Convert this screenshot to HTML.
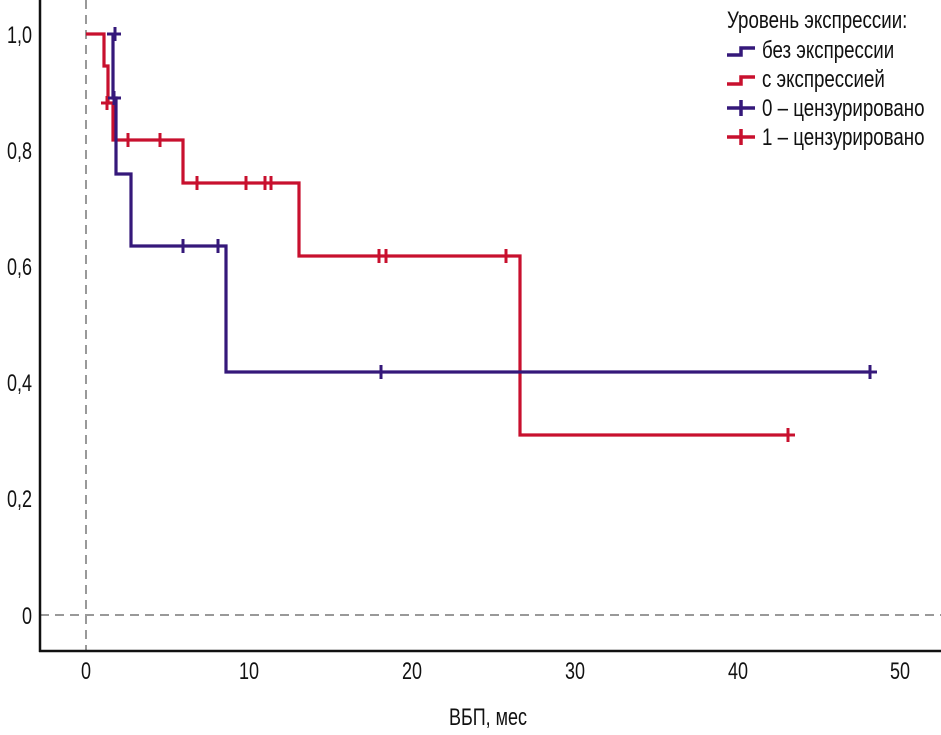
<!DOCTYPE html>
<html><head><meta charset="utf-8"><style>
html,body{margin:0;padding:0;background:#fff;}
svg text{font-family:"Liberation Sans",sans-serif;fill:#111;}
</style></head><body>
<svg width="941" height="730" viewBox="0 0 941 730" xmlns="http://www.w3.org/2000/svg">
<line x1="86" y1="0" x2="86" y2="651" stroke="#999" stroke-width="2" stroke-dasharray="9,6"/>
<line x1="40" y1="615" x2="941" y2="615" stroke="#999" stroke-width="2" stroke-dasharray="9,6"/>
<line x1="40" y1="0" x2="40" y2="652" stroke="#111" stroke-width="2.5"/>
<line x1="39" y1="651" x2="941" y2="651" stroke="#111" stroke-width="2.5"/>
<g font-size="24" text-anchor="end">
<text transform="translate(32,43) scale(0.75,1)">1,0</text>
<text transform="translate(32,159) scale(0.75,1)">0,8</text>
<text transform="translate(32,275) scale(0.75,1)">0,6</text>
<text transform="translate(32,391) scale(0.75,1)">0,4</text>
<text transform="translate(32,507) scale(0.75,1)">0,2</text>
<text transform="translate(32,624) scale(0.75,1)">0</text>
</g>
<g font-size="24" text-anchor="middle">
<text transform="translate(86,679) scale(0.75,1)">0</text>
<text transform="translate(249,679) scale(0.75,1)">10</text>
<text transform="translate(412,679) scale(0.75,1)">20</text>
<text transform="translate(575,679) scale(0.75,1)">30</text>
<text transform="translate(738,679) scale(0.75,1)">40</text>
<text transform="translate(900,679) scale(0.75,1)">50</text>
<text transform="translate(488,725) scale(0.75,1)">ВБП, мес</text>
</g>
<g fill="none" stroke-width="3.2">
<polyline stroke="#c8102e" points="86,34 104,34 104,66 108,66 108,103 113,103 113,140 183,140 183,183 299,183 299,256 520,256 520,435 788,435"/>
<polyline stroke="#35187a" points="113,34 113,98 116,98 116,174 131,174 131,246 226,246 226,372 870,372"/>
</g>
<g stroke="#c8102e" stroke-width="3">
<path d="M101,103h12 M107,96v14 M128,133v14 M160,133v14 M197,176v14 M246,176v14 M265,176v14 M271,176v14 M379,249v14 M386,249v14 M506,249v14 M781,435h14 M788,428v14"/>
</g>
<g stroke="#35187a" stroke-width="3">
<path d="M107,34h14 M115,27v14 M108,98h13 M114,91v14 M183,239v14 M218,239v14 M381,365v14 M863,372h14 M870,365v14"/>
</g>
<g font-size="24">
<text transform="translate(727,28) scale(0.78,1)">Уровень экспрессии:</text>
<text transform="translate(762,58) scale(0.78,1)">без экспрессии</text>
<text transform="translate(762,87) scale(0.78,1)">с экспрессией</text>
<text transform="translate(762,116) scale(0.78,1)">0 – цензурировано</text>
<text transform="translate(762,145) scale(0.78,1)">1 – цензурировано</text>
</g>
<path d="M727,55h14v-7h14" fill="none" stroke="#35187a" stroke-width="3.5"/>
<path d="M727,84h14v-7h14" fill="none" stroke="#c8102e" stroke-width="3.5"/>
<path d="M727,108h28 M741,100v16" stroke="#35187a" stroke-width="3.5"/>
<path d="M727,137h28 M741,129v16" stroke="#c8102e" stroke-width="3.5"/>
</svg>
</body></html>
